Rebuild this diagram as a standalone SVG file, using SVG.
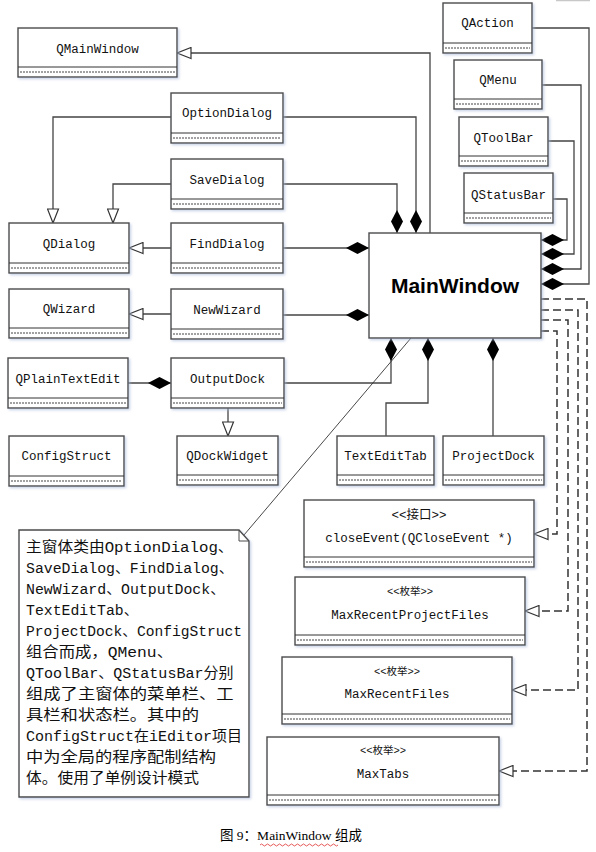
<svg xmlns="http://www.w3.org/2000/svg" width="596" height="852" viewBox="0 0 596 852">
<style>
.box{fill:#fff;stroke:#4a4a4a;stroke-width:1.4}
.sep{stroke:#333;stroke-width:1}
.dots{stroke:#444;stroke-width:1;stroke-dasharray:2,1}
.lbl{font-family:"Liberation Mono","Noto Sans CJK SC",monospace;font-size:12.5px;fill:#111;text-anchor:middle}
.st{font-family:"Liberation Mono","Noto Sans CJK SC",monospace;font-size:10.5px;fill:#111;text-anchor:middle}
.big{font-family:"Liberation Sans",Arial,sans-serif;font-size:21px;font-weight:bold;fill:#000;text-anchor:middle}
.note{font-family:"Liberation Mono","Noto Sans CJK SC",monospace;font-size:14.5px;fill:#111}
.conn{fill:none;stroke:#444;stroke-width:1.3}
.dash{stroke:#333;stroke-width:1.5;stroke-dasharray:8,4}
.cap{font-family:"Liberation Serif","Noto Sans CJK SC",serif;font-size:13.5px;fill:#000}
</style>
<defs>
<filter id="sh" x="-5%" y="-5%" width="115%" height="130%">
<feDropShadow dx="1.5" dy="1.5" stdDeviation="1" flood-color="#a8b8d8" flood-opacity="0.6"/>
</filter>
<marker id="tri" markerUnits="userSpaceOnUse" viewBox="-1 -1 16 13" refX="14" refY="5.5" markerWidth="16" markerHeight="13" orient="auto">
<path d="M0,0 L14,5.5 L0,11 Z" fill="#fff" stroke="#333" stroke-width="1.2"/>
</marker>
<marker id="dia" markerUnits="userSpaceOnUse" viewBox="0 0 23 13" refX="23" refY="6.5" markerWidth="23" markerHeight="13" orient="auto">
<path d="M0,6.5 L11.5,0.5 L23,6.5 L11.5,12.5 Z" fill="#000"/>
</marker>
</defs>
<rect width="596" height="852" fill="#fff"/>
<line x1="556" y1="0.5" x2="590" y2="0.5" stroke="#c8c8c8" stroke-width="1.5"/>

<g id="connectors">
<path class="conn" d="M430,233 V53 H177" marker-end="url(#tri)"/>
<path class="conn" d="M171,117 H53 V223" marker-end="url(#tri)"/>
<path class="conn" d="M171,184 H113 V223" marker-end="url(#tri)"/>
<path class="conn" d="M171,248 H129" marker-end="url(#tri)"/>
<path class="conn" d="M171,314 H129" marker-end="url(#tri)"/>
<path class="conn" d="M228,408 V436" marker-end="url(#tri)"/>
<path class="conn" d="M128,383 H171" marker-end="url(#dia)"/>
<path class="conn" d="M283,117 H416 V233" marker-end="url(#dia)"/>
<path class="conn" d="M283,184 H397 V233" marker-end="url(#dia)"/>
<path class="conn" d="M283,248 H369" marker-end="url(#dia)"/>
<path class="conn" d="M283,315 H369" marker-end="url(#dia)"/>
<path class="conn" d="M284,383 H391 V338" marker-end="url(#dia)"/>
<path class="conn" d="M386,436 V403 H428 V338" marker-end="url(#dia)"/>
<path class="conn" d="M493,436 V338" marker-end="url(#dia)"/>
<path class="conn" d="M532,28 H589 V284 H541" marker-end="url(#dia)"/>
<path class="conn" d="M542,85 H581 V269 H541" marker-end="url(#dia)"/>
<path class="conn" d="M548,141 H574 V254 H541" marker-end="url(#dia)"/>
<path class="conn" d="M553,199 H567 V240 H541" marker-end="url(#dia)"/>
<path class="conn dash" d="M541,299 H587 V771 H499" marker-end="url(#tri)"/>
<path class="conn dash" d="M541,310 H578 V690 H512" marker-end="url(#tri)"/>
<path class="conn dash" d="M541,320 H568 V611 H525" marker-end="url(#tri)"/>
<path class="conn dash" d="M541,331 H557 V534 H534" marker-end="url(#tri)"/>
<path d="M411,338 L244,535" fill="none" stroke="#333" stroke-width="0.9"/>
</g>

<g id="QMainWindow"><rect class="box" filter="url(#sh)" x="18" y="28" width="159" height="49"/><line class="sep" x1="18" y1="67" x2="177" y2="67"/><line class="dots" x1="20" y1="72" x2="175" y2="72"/><text class="lbl" x="97.5" y="52.5">QMainWindow</text></g>
<g id="QAction"><rect class="box" filter="url(#sh)" x="443" y="3" width="89" height="50"/><line class="sep" x1="443" y1="43" x2="532" y2="43"/><line class="dots" x1="445" y1="48" x2="530" y2="48"/><text class="lbl" x="487.5" y="26.5">QAction</text></g>
<g id="QMenu"><rect class="box" filter="url(#sh)" x="454" y="60" width="88" height="49"/><line class="sep" x1="454" y1="99" x2="542" y2="99"/><line class="dots" x1="456" y1="104" x2="540" y2="104"/><text class="lbl" x="498" y="83.5">QMenu</text></g>
<g id="QToolBar"><rect class="box" filter="url(#sh)" x="459" y="117" width="89" height="49"/><line class="sep" x1="459" y1="156" x2="548" y2="156"/><line class="dots" x1="461" y1="161" x2="546" y2="161"/><text class="lbl" x="503.5" y="141.5">QToolBar</text></g>
<g id="QStatusBar"><rect class="box" filter="url(#sh)" x="464" y="173" width="89" height="50"/><line class="sep" x1="464" y1="213" x2="553" y2="213"/><line class="dots" x1="466" y1="218" x2="551" y2="218"/><text class="lbl" x="508.5" y="198.5">QStatusBar</text></g>
<g id="OptionDialog"><rect class="box" filter="url(#sh)" x="171" y="93" width="112" height="50"/><line class="sep" x1="171" y1="133" x2="283" y2="133"/><line class="dots" x1="173" y1="138" x2="281" y2="138"/><text class="lbl" x="227" y="116.5">OptionDialog</text></g>
<g id="SaveDialog"><rect class="box" filter="url(#sh)" x="171" y="159" width="112" height="50"/><line class="sep" x1="171" y1="199" x2="283" y2="199"/><line class="dots" x1="173" y1="204" x2="281" y2="204"/><text class="lbl" x="227" y="183.5">SaveDialog</text></g>
<g id="QDialog"><rect class="box" filter="url(#sh)" x="9" y="223" width="120" height="50"/><line class="sep" x1="9" y1="263" x2="129" y2="263"/><line class="dots" x1="11" y1="268" x2="127" y2="268"/><text class="lbl" x="69" y="247.5">QDialog</text></g>
<g id="FindDialog"><rect class="box" filter="url(#sh)" x="171" y="223" width="112" height="50"/><line class="sep" x1="171" y1="263" x2="283" y2="263"/><line class="dots" x1="173" y1="268" x2="281" y2="268"/><text class="lbl" x="227" y="247.5">FindDialog</text></g>
<g id="QWizard"><rect class="box" filter="url(#sh)" x="9" y="289" width="120" height="49"/><line class="sep" x1="9" y1="328" x2="129" y2="328"/><line class="dots" x1="11" y1="333" x2="127" y2="333"/><text class="lbl" x="69" y="312.5">QWizard</text></g>
<g id="NewWizard"><rect class="box" filter="url(#sh)" x="171" y="289" width="112" height="50"/><line class="sep" x1="171" y1="329" x2="283" y2="329"/><line class="dots" x1="173" y1="334" x2="281" y2="334"/><text class="lbl" x="227" y="313.5">NewWizard</text></g>
<g id="QPlainTextEdit"><rect class="box" filter="url(#sh)" x="8" y="358" width="120" height="50"/><line class="sep" x1="8" y1="398" x2="128" y2="398"/><line class="dots" x1="10" y1="403" x2="126" y2="403"/><text class="lbl" x="68" y="382.5">QPlainTextEdit</text></g>
<g id="OutputDock"><rect class="box" filter="url(#sh)" x="171" y="358" width="113" height="50"/><line class="sep" x1="171" y1="398" x2="284" y2="398"/><line class="dots" x1="173" y1="403" x2="282" y2="403"/><text class="lbl" x="227.5" y="382.5">OutputDock</text></g>
<g id="ConfigStruct"><rect class="box" filter="url(#sh)" x="9" y="436" width="115" height="50"/><line class="sep" x1="9" y1="476" x2="124" y2="476"/><line class="dots" x1="11" y1="481" x2="122" y2="481"/><text class="lbl" x="66.5" y="459.5">ConfigStruct</text></g>
<g id="QDockWidget"><rect class="box" filter="url(#sh)" x="177" y="436" width="101" height="49"/><line class="sep" x1="177" y1="475" x2="278" y2="475"/><line class="dots" x1="179" y1="480" x2="276" y2="480"/><text class="lbl" x="227.5" y="459.5">QDockWidget</text></g>
<g id="TextEditTab"><rect class="box" filter="url(#sh)" x="337" y="436" width="97" height="49"/><line class="sep" x1="337" y1="475" x2="434" y2="475"/><line class="dots" x1="339" y1="480" x2="432" y2="480"/><text class="lbl" x="385.5" y="459.5">TextEditTab</text></g>
<g id="ProjectDock"><rect class="box" filter="url(#sh)" x="443" y="436" width="101" height="49"/><line class="sep" x1="443" y1="475" x2="544" y2="475"/><line class="dots" x1="445" y1="480" x2="542" y2="480"/><text class="lbl" x="493.5" y="459.5">ProjectDock</text></g>
<g id="MainWindow"><rect class="box" filter="url(#sh)" x="369" y="233" width="172" height="105"/><text class="big" x="455" y="293">MainWindow</text></g>
<g id="closeEvent"><rect class="box" filter="url(#sh)" x="304" y="500" width="230" height="67"/><line class="sep" x1="304" y1="557" x2="534" y2="557"/><line class="dots" x1="306" y1="562" x2="532" y2="562"/><text class="lbl" x="419" y="518.5">&lt;&lt;接口&gt;&gt;</text><text class="lbl" x="419" y="541.5">closeEvent(QCloseEvent *)</text></g>
<g id="MaxRecentProjectFiles"><rect class="box" filter="url(#sh)" x="295" y="577" width="230" height="68"/><line class="sep" x1="295" y1="635" x2="525" y2="635"/><line class="dots" x1="297" y1="640" x2="523" y2="640"/><text class="st" x="410" y="595">&lt;&lt;枚举&gt;&gt;</text><text class="lbl" x="410" y="618.5">MaxRecentProjectFiles</text></g>
<g id="MaxRecentFiles"><rect class="box" filter="url(#sh)" x="282" y="657" width="230" height="67"/><line class="sep" x1="282" y1="714" x2="512" y2="714"/><line class="dots" x1="284" y1="719" x2="510" y2="719"/><text class="st" x="397" y="675">&lt;&lt;枚举&gt;&gt;</text><text class="lbl" x="397" y="697.5">MaxRecentFiles</text></g>
<g id="MaxTabs"><rect class="box" filter="url(#sh)" x="267" y="737" width="232" height="68"/><line class="sep" x1="267" y1="795" x2="499" y2="795"/><line class="dots" x1="269" y1="800" x2="497" y2="800"/><text class="st" x="383" y="754">&lt;&lt;枚举&gt;&gt;</text><text class="lbl" x="383" y="777.5">MaxTabs</text></g>

<g id="note">
<path d="M19,530 H239 L249,541 V797 H19 Z" fill="#fff" stroke="#4a4a4a" stroke-width="1.4" filter="url(#sh)"/>
<path d="M239,530 V541 H249" fill="none" stroke="#4a4a4a" stroke-width="1"/>
<text class="note" x="26" y="552" textLength="207.6" lengthAdjust="spacingAndGlyphs">主窗体类由OptionDialog、</text>
<text class="note" x="26" y="573" textLength="207.6" lengthAdjust="spacingAndGlyphs">SaveDialog、FindDialog、</text>
<text class="note" x="26" y="594" textLength="199" lengthAdjust="spacingAndGlyphs">NewWizard、OutputDock、</text>
<text class="note" x="26" y="615" textLength="112.5" lengthAdjust="spacingAndGlyphs">TextEditTab、</text>
<text class="note" x="26" y="636" textLength="216" lengthAdjust="spacingAndGlyphs">ProjectDock、ConfigStruct</text>
<text class="note" x="26" y="657" textLength="147" lengthAdjust="spacingAndGlyphs">组合而成，QMenu、</text>
<text class="note" x="26" y="678" textLength="207.6" lengthAdjust="spacingAndGlyphs">QToolBar、QStatusBar分别</text>
<text class="note" x="26" y="699" textLength="207.6" lengthAdjust="spacingAndGlyphs">组成了主窗体的菜单栏、工</text>
<text class="note" x="26" y="720" textLength="173" lengthAdjust="spacingAndGlyphs">具栏和状态栏。其中的</text>
<text class="note" x="26" y="741" textLength="216" lengthAdjust="spacingAndGlyphs">ConfigStruct在iEditor项目</text>
<text class="note" x="26" y="762" textLength="190" lengthAdjust="spacingAndGlyphs">中为全局的程序配制结构</text>
<text class="note" x="26" y="783" textLength="173" lengthAdjust="spacingAndGlyphs">体。使用了单例设计模式</text>
</g>

<g id="caption">
<text class="cap" x="220" y="840" font-size="14">图 9：MainWindow 组成</text>
<path d="M260,845 q1.5,-2 3,0 t3,0 t3,0 t3,0 t3,0 t3,0 t3,0 t3,0 t3,0 t3,0 t3,0 t3,0 t3,0 t3,0 t3,0 t3,0 t3,0 t3,0 t3,0 t3,0 t3,0 t3,0 t3,0 t3,0 t3,0 t3,0" fill="none" stroke="#e03030" stroke-width="0.8"/>
</g>
</svg>
